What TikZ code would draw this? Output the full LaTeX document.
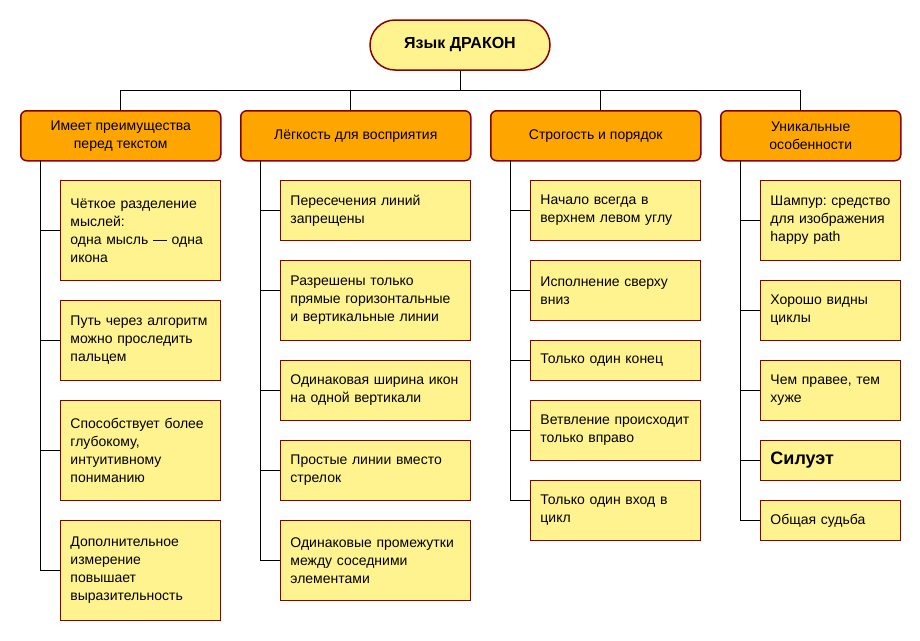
\documentclass[tikz,border=0pt]{standalone}
\usepackage{fontspec}
\setmainfont{Liberation Sans}
\usepackage{tikz}
\usetikzlibrary{positioning}
\frenchspacing

\definecolor{boxline}{HTML}{880000}
\definecolor{catfill}{HTML}{FFA500}
\definecolor{leaffill}{HTML}{FFF38F}

\begin{document}
\begin{tikzpicture}[
  x=1pt, y=-1pt,
  root/.style={rounded corners=25pt, draw=boxline, line width=1.5pt, fill=leaffill, minimum width=180pt, minimum height=50pt, font=\fontsize{16}{20}\selectfont\bfseries},
  cat/.style={rounded corners=6pt, draw=boxline, line width=1.5pt, fill=catfill, anchor=north west, minimum height=50pt, inner sep=2pt, align=center, font=\fontsize{14}{18}\selectfont},
  leaf/.style={draw=boxline, line width=0.9pt, fill=leaffill, anchor=north west, inner xsep=10pt, inner ysep=0pt, align=left, font=\fontsize{14}{18}\selectfont},
  leaf1/.style={leaf, text width=140pt},
  leaf2/.style={leaf, text width=170pt},
  leaf3/.style={leaf, text width=150pt},
  leaf4/.style={leaf, text width=120pt},
  ln/.style={draw=black, line width=0.8pt}
]
\useasboundingbox (0,0) rectangle (920,640);

\node[root] (root) at (460,45) {Язык ДРАКОН};

\node[cat, minimum width=200pt] (c1) at (20,110) {Имеет преимущества\\перед текстом};
\node[cat, minimum width=230pt] (c2) at (240,110) {Лёгкость для восприятия};
\node[cat, minimum width=210pt] (c3) at (490,110) {Строгость и порядок};
\node[cat, minimum width=180pt] (c4) at (720,110) {Уникальные\\особенности};

% leaves, column 1
\node[leaf1, minimum height=100pt] (l11) at (60,180) {Чёткое разделение\\мыслей:\\одна мысль — одна\\икона};
\node[leaf1, minimum height=80pt] (l12) at (60,300) {Путь через алгоритм\\можно проследить\\пальцем};
\node[leaf1, minimum height=100pt] (l13) at (60,400) {Способствует более\\глубокому,\\интуитивному\\пониманию};
\node[leaf1, minimum height=100pt] (l14) at (60,520) {Дополнительное\\измерение\\повышает\\выразительность};

% leaves, column 2
\node[leaf2, minimum height=60pt] (l21) at (280,180) {Пересечения линий\\запрещены};
\node[leaf2, minimum height=80pt] (l22) at (280,260) {Разрешены только\\прямые горизонтальные\\и вертикальные линии};
\node[leaf2, minimum height=60pt] (l23) at (280,360) {Одинаковая ширина икон\\на одной вертикали};
\node[leaf2, minimum height=60pt] (l24) at (280,440) {Простые линии вместо\\стрелок};
\node[leaf2, minimum height=80pt] (l25) at (280,520) {Одинаковые промежутки\\между соседними\\элементами};

% leaves, column 3
\node[leaf3, minimum height=60pt] (l31) at (530,180) {Начало всегда в\\верхнем левом углу};
\node[leaf3, minimum height=60pt] (l32) at (530,260) {Исполнение сверху\\вниз};
\node[leaf3, minimum height=40pt] (l33) at (530,340) {Только один конец};
\node[leaf3, minimum height=60pt] (l34) at (530,400) {Ветвление происходит\\только вправо};
\node[leaf3, minimum height=60pt] (l35) at (530,480) {Только один вход в\\цикл};

% leaves, column 4
\node[leaf4, minimum height=80pt] (l41) at (760,180) {\mbox{Шампур: средство}\\для изображения\\happy path};
\node[leaf4, minimum height=60pt] (l42) at (760,280) {Хорошо видны\\циклы};
\node[leaf4, minimum height=60pt] (l43) at (760,360) {Чем правее, тем\\хуже};
\node[leaf4, minimum height=40pt] (l44) at (760,440) {\fontsize{18}{22}\selectfont\bfseries Силуэт};
\node[leaf4, minimum height=40pt] (l45) at (760,500) {Общая судьба};

% top bus
\coordinate (bus) at (460,90);
\draw[ln] (root.south) -- (bus);
\draw[ln] (bus) -| (c1.north);
\draw[ln] (bus) -| ([xshift=-5pt]c2.north);
\draw[ln] (bus) -| ([xshift=5pt]c3.north);
\draw[ln] (bus) -| ([xshift=-10pt]c4.north);

% trunks
\coordinate (t1) at (40,160);
\coordinate (t2) at (260,160);
\coordinate (t3) at (510,160);
\coordinate (t4) at (740,160);
\foreach \l in {l11,l12,l13,l14} \draw[ln] (t1) |- (\l.west);
\foreach \l in {l21,l23,l24,l25} \draw[ln] (t2) |- (\l.west);
\draw[ln] (t2) |- ([yshift=10pt]l22.west);
\foreach \l in {l31,l32,l33,l34} \draw[ln] (t3) |- (\l.west);
\draw[ln] (t3) |- ([yshift=10pt]l35.west);
\foreach \l in {l41,l42,l43,l44,l45} \draw[ln] (t4) |- (\l.west);
\end{tikzpicture}
\end{document}
